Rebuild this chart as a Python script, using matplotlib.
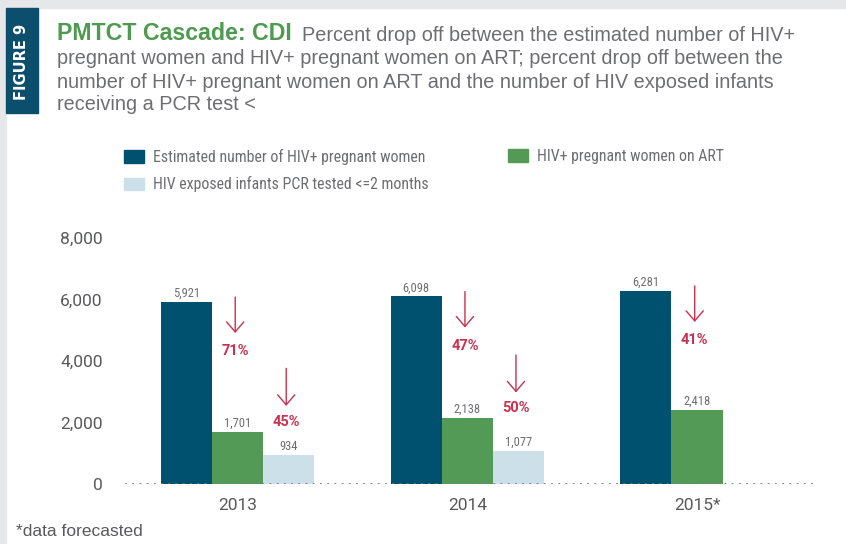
import matplotlib.pyplot as plt
from matplotlib import font_manager
from matplotlib.patches import Rectangle, Patch

# data
years = ['2013', '2014', '2015*']
estimated = [5921, 6098, 6281]
on_art = [1701, 2138, 2418]
pcr_tested = [934, 1077, None]
drop_art = ['71%', '47%', '41%']
drop_pcr = ['45%', '50%', None]
yticks = [0, 2000, 4000, 6000, 8000]

c_blue = '#00506f'
c_green = '#529a55'
c_light = '#cce0ea'
c_red = '#c8314f'
c_text = '#6d6e71'

installed = {f.name for f in font_manager.fontManager.ttflist}


def pick(*names):
    for n in names:
        if n in installed:
            return [n, 'DejaVu Sans']
    return ['DejaVu Sans']


narrow = pick('Roboto Condensed', 'Archivo Narrow', 'PT Sans Narrow', 'Liberation Sans')
plain = pick('Roboto', 'Liberation Sans')
helv = pick('Liberation Sans', 'Roboto')

W, H = 846, 544
fig = plt.figure(figsize=(W / 100, H / 100), dpi=100)


def fx(px):
    return px / W


def fy(py):
    return 1 - py / H


# page frame: gray top + left edge, blue figure tab
fig.patches.append(Rectangle((0, fy(8)), 1, 8 / H, transform=fig.transFigure,
                             color='#e6e7e8', zorder=0))
fig.patches.append(Rectangle((0, 0), 6 / W, 1, transform=fig.transFigure,
                             color='#e6e7e8', zorder=0))
fig.patches.append(Rectangle((fx(6), fy(113)), 32 / W, 105 / H,
                             transform=fig.transFigure, color='#0b4f6c', zorder=0))
fig.text(fx(22), fy(62), 'FIGURE 9', rotation=90, color='white', fontsize=10.5,
         fontweight='bold', ha='center', va='center', family=['DejaVu Sans'])

# title block
fig.text(fx(57), fy(40), 'PMTCT Cascade: CDI', color='#4d9a50', fontsize=16.7,
         fontweight='bold', ha='left', va='baseline', family=helv)
fig.text(fx(302), fy(41), 'Percent drop off between the estimated number of HIV+',
         color=c_text, fontsize=14.3, ha='left', va='baseline', family=helv)
sub_lines = [
    'pregnant women and HIV+ pregnant women on ART; percent drop off between the',
    'number of HIV+ pregnant women on ART and the number of HIV exposed infants',
    'receiving a PCR test <',
]
for i, line in enumerate(sub_lines):
    fig.text(fx(57), fy(64.5 + 23 * i), line, color=c_text, fontsize=14.3,
             ha='left', va='baseline', family=helv)

# axes
ax = fig.add_axes([fx(125), fy(484), (815 - 125) / W, (484 - 238) / H])
w = 0.222
x = list(range(len(years)))

ax.bar([i - w for i in x], estimated, w, color=c_blue, zorder=2)
ax.bar(x, on_art, w, color=c_green, zorder=2)
xp = [i + w for i, v in zip(x, pcr_tested) if v is not None]
vp = [v for v in pcr_tested if v is not None]
ax.bar(xp, vp, w, color=c_light, zorder=2)

lab_kw = dict(ha='center', va='bottom', color=c_text, fontsize=9, family=narrow)
for i in x:
    ax.text(i - w, estimated[i] + 70, f'{estimated[i]:,}', **lab_kw)
    ax.text(i, on_art[i] + 70, f'{on_art[i]:,}', **lab_kw)
    if pcr_tested[i] is not None:
        ax.text(i + w, pcr_tested[i] + 70, f'{pcr_tested[i]:,}', **lab_kw)

# drop-off arrows: start beside the larger bar's top, end above the % label
arrow_kw = dict(arrowstyle='->,head_length=0.72,head_width=0.62', color=c_red, lw=1.0)
for i in x:
    top = estimated[i] + 250
    ax.annotate('', xy=(i - 0.01, top - 1350), xytext=(i - 0.01, top),
                arrowprops=arrow_kw)
    ax.text(i - 0.01, top - 1850, drop_art[i], color=c_red, fontsize=10.5,
            fontweight='bold', ha='center', va='center', family=plain)
    if drop_pcr[i] is not None:
        top2 = on_art[i] + 2150
        ax.annotate('', xy=(i + w - 0.01, top2 - 1400), xytext=(i + w - 0.01, top2),
                    arrowprops=arrow_kw)
        ax.text(i + w - 0.01, top2 - 1830, drop_pcr[i], color=c_red, fontsize=10.5,
                fontweight='bold', ha='center', va='center', family=plain)

ax.axhline(0, color='#777777', lw=1.3, ls=(0, (1, 3)), zorder=3)
ax.set_xlim(-0.4897, 2.5136)
ax.set_ylim(0, 8000)
ax.set_yticks(yticks)
ax.set_yticklabels([f'{t:,}' for t in yticks], family=plain, fontsize=12.5,
                   color='#58595b')
ax.set_xticks(x)
ax.set_xticklabels(years, family=plain, fontsize=12.5, color='#58595b')
ax.tick_params(length=0)
ax.tick_params(axis='y', pad=16)
ax.tick_params(axis='x', pad=10)
for s in ax.spines.values():
    s.set_visible(False)

# legend
leg_kw = dict(frameon=False, labelcolor=c_text, handlelength=1.25,
              handleheight=0.85, handletextpad=0.6, labelspacing=0.72,
              borderpad=0, borderaxespad=0, loc='upper left',
              prop={'family': narrow, 'size': 11.4})
fig.legend(handles=[Patch(color=c_blue, label='Estimated number of HIV+ pregnant women'),
                    Patch(color=c_light, label='HIV exposed infants PCR tested <=2 months')],
           bbox_to_anchor=(fx(124), fy(149)), **leg_kw)
fig.legend(handles=[Patch(color=c_green, label='HIV+ pregnant women on ART')],
           bbox_to_anchor=(fx(508), fy(149)), **leg_kw)

fig.text(fx(16), fy(532), '*data forecasted', color='#58595b', fontsize=12.5,
         ha='left', va='center', family=helv)

fig.savefig('out.png', dpi=100)
